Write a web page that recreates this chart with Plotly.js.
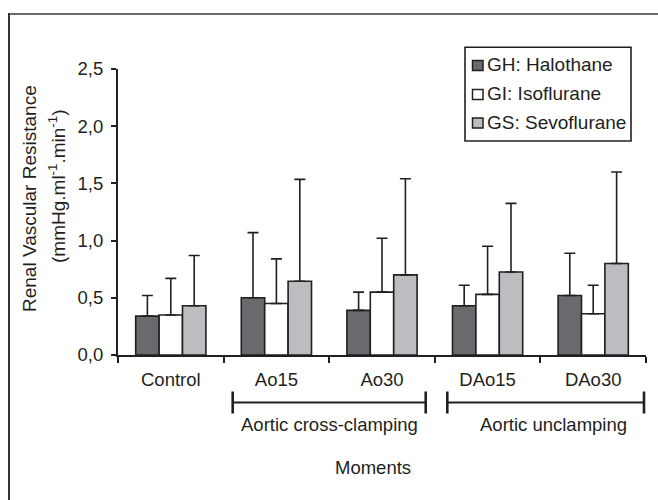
<!DOCTYPE html>
<html>
<head>
<meta charset="utf-8">
<script src="https://cdn.plot.ly/plotly-3.0.1.min.js"></script>
<style>html,body{margin:0;padding:0;background:#fff;}#chart{width:658px;height:500px;}</style>
</head>
<body>
<div id="chart"></div>
<script>
// ---- data ----
const categories = ['Control', 'Ao15', 'Ao30', 'DAo15', 'DAo30'];
const seriesNames = ['GH: Halothane', 'GI: Isoflurane', 'GS: Sevoflurane'];
const ghMean = [0.34, 0.50, 0.39, 0.43, 0.52];
const ghSD   = [0.18, 0.57, 0.16, 0.18, 0.37];
const giMean = [0.35, 0.45, 0.55, 0.53, 0.36];
const giSD   = [0.32, 0.39, 0.47, 0.42, 0.25];
const gsMean = [0.43, 0.645, 0.70, 0.725, 0.80];
const gsSD   = [0.44, 0.89, 0.84, 0.60, 0.80];
const groupLabels = ['Aortic cross-clamping', 'Aortic unclamping'];
const xTitle = 'Moments';
const yTitleLine1 = 'Renal Vascular Resistance';
const yTitleLine2 = '(mmHg.ml<sup>-1</sup>.min<sup>-1</sup>)';

// ---- styles ----
const FONT = 'Liberation Sans, Arial, sans-serif';
const FS = 18.5;
const INK = '#231f20';
const fills = ['#696a6e', '#ffffff', '#bcbdc1'];
const means = [ghMean, giMean, gsMean];
const sds = [ghSD, giSD, gsSD];

const W = 658, H = 500;
const M = {l: 118, r: 12, t: 69, b: 145};
const PW = W - M.l - M.r, PH = H - M.t - M.b;
const px = x => (x - M.l) / PW;
const py = y => (H - M.b - y) / PH;

const traces = seriesNames.map((name, i) => ({
  type: 'bar',
  name: name,
  x: categories,
  y: means[i],
  marker: {color: fills[i], line: {color: INK, width: 1.6}},
  error_y: {type: 'data', symmetric: false, array: sds[i], arrayminus: sds[i].map(() => 0),
            color: INK, thickness: 1.6, width: 5.5},
  showlegend: false,
  hoverinfo: 'skip'
}));

const shapes = [];
const annotations = [];

// frame lines (top & left)
shapes.push({type: 'line', xref: 'paper', yref: 'paper', x0: px(9), x1: px(660), y0: py(14), y1: py(14),
             line: {color: '#6b6b6b', width: 2}});
shapes.push({type: 'line', xref: 'paper', yref: 'paper', x0: px(9), x1: px(9), y0: py(13), y1: py(502),
             line: {color: '#333333', width: 2}});

// brackets
const brackets = [[232.7, 425.7, 329], [447.3, 644, 553.5]];
brackets.forEach((b, i) => {
  shapes.push({type: 'line', xref: 'paper', yref: 'paper', x0: px(b[0]), x1: px(b[1]), y0: py(402.5), y1: py(402.5),
               line: {color: INK, width: 2}});
  [b[0], b[1]].forEach(xx => shapes.push({type: 'line', xref: 'paper', yref: 'paper', x0: px(xx), x1: px(xx),
               y0: py(391.5), y1: py(413.5), line: {color: INK, width: 2.6}}));
  annotations.push({xref: 'paper', yref: 'paper', x: px(b[2]), y: py(424), xanchor: 'center', yanchor: 'middle',
               text: groupLabels[i], showarrow: false, font: {family: FONT, size: FS, color: INK}});
});

// x title
annotations.push({xref: 'paper', yref: 'paper', x: px(372.5), y: py(467), xanchor: 'center', yanchor: 'middle',
                  text: xTitle, showarrow: false, font: {family: FONT, size: FS, color: INK}});
// y title (two lines)
annotations.push({xref: 'paper', yref: 'paper', x: px(29), y: py(199), xanchor: 'center', yanchor: 'middle',
                  textangle: -90, text: yTitleLine1, showarrow: false, font: {family: FONT, size: 19, color: INK}});
annotations.push({xref: 'paper', yref: 'paper', x: px(56.5), y: py(186.5), xanchor: 'center', yanchor: 'middle',
                  textangle: -90, text: yTitleLine2, showarrow: false, font: {family: FONT, size: 19, color: INK}});

// legend box (custom)
shapes.push({type: 'rect', xref: 'paper', yref: 'paper', x0: px(465), x1: px(631), y0: py(47.3), y1: py(141),
             line: {color: INK, width: 1.6}, fillcolor: 'rgba(255,255,255,1)'});
const rowY = [64.5, 93.5, 122];
seriesNames.forEach((name, i) => {
  const cy = rowY[i] + 1;
  shapes.push({type: 'rect', xref: 'paper', yref: 'paper', x0: px(472.5), x1: px(483), y0: py(cy - 5), y1: py(cy + 5),
               line: {color: INK, width: 1.5}, fillcolor: fills[i]});
  annotations.push({xref: 'paper', yref: 'paper', x: px(485), y: py(rowY[i]), xanchor: 'left', yanchor: 'middle',
               text: name, showarrow: false, font: {family: FONT, size: 19, color: INK}});
});

const layout = {
  width: W, height: H,
  margin: M,
  paper_bgcolor: '#ffffff', plot_bgcolor: '#ffffff',
  separators: ', ',
  font: {family: FONT, size: FS, color: INK},
  barmode: 'group', bargap: 0.335, bargroupgap: 0,
  showlegend: false,
  xaxis: {type: 'category', tickson: 'boundaries', ticks: 'outside', ticklen: 6, tickwidth: 2, tickcolor: INK,
          showline: true, linecolor: INK, linewidth: 2, showgrid: false, zeroline: false,
          tickfont: {family: FONT, size: FS, color: INK}, ticklabelstandoff: 7, fixedrange: true},
  yaxis: {range: [0, 2.5], dtick: 0.5, tick0: 0, tickformat: '.1f', ticks: 'outside', ticklen: 5, tickwidth: 2,
          tickcolor: INK, showline: true, linecolor: INK, linewidth: 2, showgrid: false, zeroline: false,
          tickfont: {family: FONT, size: FS, color: INK}, ticklabelstandoff: 4, fixedrange: true},
  shapes: shapes,
  annotations: annotations
};

Plotly.newPlot('chart', traces, layout, {displayModeBar: false, staticPlot: true});
</script>
</body>
</html>
